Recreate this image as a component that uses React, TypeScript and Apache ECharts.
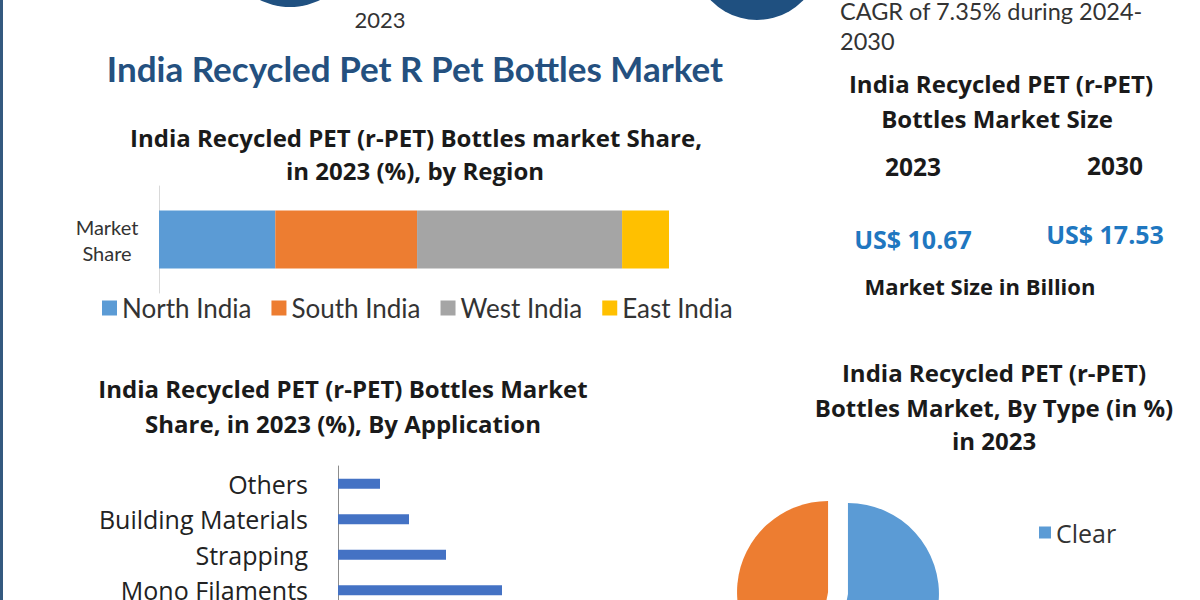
import React, { useEffect, useRef } from "react";
import * as echarts from "echarts";

// ---- data ----
const regionNames = ["North India", "South India", "West India", "East India"];
const regionShares = [22.8, 27.8, 40.2, 9.2];
const regionColors = ["#5B9BD5", "#ED7D31", "#A5A5A5", "#FFC000"];
const regionCategory = ["Market Share"];

const appCategories = ["Others", "Building Materials", "Strapping", "Mono Filaments"];
const appValues = [4.2, 7.1, 10.8, 16.4];

const typeNames = ["Clear", "Colored"];
const typeValues = [53, 47];
const typeColors = ["#5B9BD5", "#ED7D31"];

const marketYears = ["2023", "2030"];
const marketValues = ["US$ 10.67", "US$ 17.53"];

const SANS = "'Open Sans', 'Noto Sans', sans-serif";
const CAL = "Lato, 'Noto Sans', sans-serif";

function txt(text: string, x: number, y: number, size: number, opts: any = {}) {
  return {
    type: "text",
    x,
    y,
    silent: true,
    style: {
      text,
      fill: opts.fill || "#222",
      fontSize: size,
      fontWeight: opts.weight || "normal",
      fontFamily: opts.family || SANS,
      textAlign: opts.align || "center",
      align: opts.align || "center",
      textVerticalAlign: "middle",
      verticalAlign: "middle",
    },
  };
}

export default function App() {
  const ref = useRef<HTMLDivElement>(null);
  useEffect(() => {
    document.body.style.margin = "0";
    document.body.style.overflow = "hidden";
    const chart = echarts.init(ref.current!, null, { renderer: "svg" });
    const bold = { weight: "bold", family: SANS, fill: "#1a1a1a" };
    const blueVal = { weight: "bold", family: SANS, fill: "#1f77c0" };
    const option: any = {
      animation: false,
      backgroundColor: "#ffffff",
      grid: [
        { left: 159, top: 186, width: 510, height: 107 },
        { left: 338, top: 466, width: 400, height: 142 },
      ],
      xAxis: [
        { type: "value", gridIndex: 0, min: 0, max: 100, show: false },
        { type: "value", gridIndex: 1, min: 0, max: 40, show: false },
      ],
      yAxis: [
        {
          type: "category",
          gridIndex: 0,
          data: regionCategory,
          axisLine: { show: true, lineStyle: { color: "#d9d9d9", width: 1 } },
          axisTick: { show: false },
          axisLabel: {
            margin: 52,
            align: "center",
            formatter: (v: string) => v.replace(" ", "\n"),
            fontFamily: CAL,
            fontSize: 20,
            lineHeight: 26,
            color: "#333",
            padding: [0, 0, 3, 0],
          },
        },
        {
          type: "category",
          gridIndex: 1,
          inverse: true,
          data: appCategories,
          axisLine: { show: true, lineStyle: { color: "#8c8c8c", width: 1 } },
          axisTick: { show: false },
          axisLabel: {
            margin: 30,
            fontFamily: SANS,
            fontSize: 25,
            color: "#222",
          },
        },
      ],
      legend: [
        {
          data: regionNames,
          left: 97,
          top: 290,
          icon: "rect",
          itemWidth: 15,
          itemHeight: 15,
          itemGap: 20,
          textStyle: { fontFamily: CAL, fontSize: 26, color: "#333" },
        },
        {
          data: ["Clear"],
          left: 1034,
          top: 515,
          orient: "vertical",
          icon: "rect",
          itemWidth: 12,
          itemHeight: 12,
          textStyle: { fontFamily: SANS, fontSize: 25, color: "#333" },
        },
      ],
      series: [
        ...regionNames.map((n, i) => ({
          type: "bar",
          name: n,
          stack: "region",
          xAxisIndex: 0,
          yAxisIndex: 0,
          barWidth: 58,
          itemStyle: { color: regionColors[i] },
          data: [regionShares[i]],
        })),
        {
          type: "bar",
          name: "Application",
          xAxisIndex: 1,
          yAxisIndex: 1,
          barWidth: 10,
          itemStyle: { color: "#4472C4" },
          data: appValues,
        },
        {
          type: "pie",
          name: "Type",
          center: [838, 593],
          radius: 91,
          startAngle: 90,
          clockwise: true,
          selectedMode: "multiple",
          selectedOffset: 10,
          label: { show: false },
          labelLine: { show: false },
          emphasis: { disabled: true },
          data: typeNames.map((n, i) => ({
            name: n,
            value: typeValues[i],
            selected: true,
            itemStyle: { color: typeColors[i] },
          })),
        },
      ],
      graphic: [
        { type: "rect", shape: { x: 0, y: 0, width: 3, height: 620 }, style: { fill: "#34597f" }, silent: true },
        { type: "circle", shape: { cx: 290, cy: -61, r: 68 }, style: { fill: "#1F5080" }, silent: true },
        { type: "circle", shape: { cx: 757, cy: -44, r: 64 }, style: { fill: "#1F5080" }, silent: true },
        txt("2023", 380, 19, 22, { family: CAL, fill: "#333" }),
        txt("CAGR of 7.35% during 2024-", 840, 11, 23.5, { family: CAL, fill: "#333", align: "left" }),
        txt("2030", 840, 41, 23.5, { family: CAL, fill: "#333", align: "left" }),
        txt("India Recycled Pet R Pet Bottles Market", 415, 68, 35, { family: CAL, weight: "bold", fill: "#24507f" }),
        txt("India Recycled PET (r-PET) Bottles market Share,", 416, 137, 24, bold),
        txt("in 2023 (%), by Region", 415, 170, 24, bold),
        txt("India Recycled PET (r-PET) Bottles Market", 343, 388, 24, bold),
        txt("Share, in 2023 (%), By Application", 343, 423, 24, bold),
        txt("India Recycled PET (r-PET)", 1001, 83, 24, bold),
        txt("Bottles Market Size", 997, 118, 24, bold),
        txt(marketYears[0], 913, 166, 24.5, bold),
        txt(marketYears[1], 1115, 165, 24.5, bold),
        txt(marketValues[0], 913, 239, 25, blueVal),
        txt(marketValues[1], 1105, 234, 25, blueVal),
        txt("Market Size in Billion", 980, 286, 22, bold),
        txt("India Recycled PET (r-PET)", 994, 372, 24, bold),
        txt("Bottles Market, By Type (in %)", 994, 407, 24, bold),
        txt("in 2023", 994, 440, 24, bold),
      ],
    };
    chart.setOption(option);
    return () => chart.dispose();
  }, []);
  return <div ref={ref} style={{ position: "absolute", left: 0, top: 0, width: 1200, height: 610 }} />;
}
